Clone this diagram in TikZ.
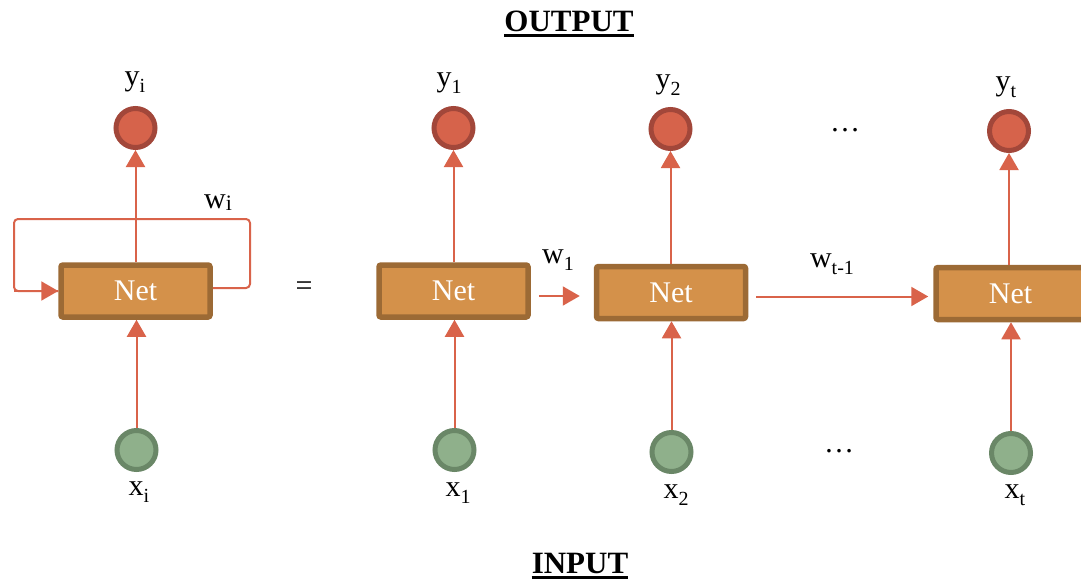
\documentclass[tikz,border=0pt]{standalone}
\usepackage{fontspec}
\setmainfont{Liberation Serif}
\usetikzlibrary{arrows.meta}
\definecolor{arrowred}{HTML}{D9634A}
\definecolor{outfill}{HTML}{D6634B}
\definecolor{outdraw}{HTML}{A2473A}
\definecolor{infill}{HTML}{8FB08B}
\definecolor{indraw}{HTML}{6A8767}
\definecolor{netfill}{HTML}{D4914A}
\definecolor{netdraw}{HTML}{9C6A35}
\newcommand\lowsub[1]{\raisebox{-7pt}{\fontsize{20}{20}\selectfont #1}}
\tikzset{
  netbox/.style={draw=netdraw, fill=netfill, line width=5.5pt, rounded corners=2pt,
    minimum width=149pt, minimum height=52pt, inner sep=0pt,
    text=white, font=\fontsize{30}{34}\selectfont},
  outnode/.style={circle, draw=outdraw, fill=outfill, line width=5pt,
    minimum size=39pt, inner sep=0pt},
  innode/.style={circle, draw=indraw, fill=infill, line width=5pt,
    minimum size=39pt, inner sep=0pt},
  lbl/.style={inner sep=0pt, font=\fontsize{30}{34}\selectfont},
  head/.style={inner sep=0pt, font=\fontsize{31}{36}\selectfont\bfseries, anchor=base},
  conn/.style={draw=arrowred, line width=2pt, -{Triangle[length=17pt,width=19pt]}},
  plain/.style={draw=arrowred, line width=2pt},
}
\begin{document}
\begin{tikzpicture}[x=1pt,y=-1pt]
\useasboundingbox (0,0) rectangle (1081,583);

% headings
\node[head] (outh) at (569,32) {OUTPUT};
\node[head] (inh) at (580,573) {INPUT};
\draw[line width=3pt] ([yshift=-4pt]outh.base west) -- ([yshift=-4pt]outh.base east);
\draw[line width=3pt] ([yshift=-4pt]inh.base west) -- ([yshift=-4pt]inh.base east);

% recurrent cell (folded form)
\node[netbox] (n0) at (135.5,291) {Net};
\node[outnode] (y0) at (135.5,128) {};
\node[innode] (x0) at (136.5,450) {};
\node[lbl] (ly0) at (135,82) {y\lowsub{i}};
\node[lbl] (lx0) at (139,492) {x\lowsub{i}};
\draw[conn] (n0.north) -- (y0.south);
\draw[conn] (x0.north) -- (n0.south -| x0.north);
\coordinate (loopR) at (250,288);
\coordinate (loopTR) at (250,219);
\coordinate (loopTL) at (14,219);
\coordinate (loopL) at (14,291);
\draw[plain, rounded corners=4pt] (n0.east |- loopR) -- (loopR) -- (loopTR) -- (loopTL) -- (loopL) -- (n0.west);
\draw[conn] (loopL) -- (n0.west);
\node[lbl] (lw0) at (218,203) {w\raisebox{-2pt}{\fontsize{22}{22}\selectfont i}};

\node[lbl] (eq) at (304,289) {=};

% unrolled cells
\node[netbox] (n1) at (453.5,291) {Net};
\node[netbox] (n2) at (671,292.5) {Net};
\node[netbox] (n3) at (1010.5,293.5) {Net};

\node[outnode] (y1) at (453.5,128) {};
\node[outnode] (y2) at (670.5,129) {};
\node[outnode] (y3) at (1009,131) {};

\node[innode] (x1) at (454.5,450) {};
\node[innode] (x2) at (671.5,452) {};
\node[innode] (x3) at (1011,453) {};

\node[lbl] (ly1) at (449,83) {y\lowsub{1}};
\node[lbl] (ly2) at (668,85) {y\lowsub{2}};
\node[lbl] (ly3) at (1006,87) {y\lowsub{t}};

\node[lbl] (lx1) at (458,493) {x\lowsub{1}};
\node[lbl] (lx2) at (676,495) {x\lowsub{2}};
\node[lbl] (lx3) at (1015,495) {x\lowsub{t}};

\node[lbl] (dotsT) at (845,130) {\dots};
\node[lbl] (dotsB) at (839,451) {\dots};

\foreach \i in {1,2,3}{
  \draw[conn] (n\i.north -| y\i.south) -- (y\i.south);
  \draw[conn] (x\i.north) -- (n\i.south -| x\i.north);
}

\draw[conn, shorten <=8pt, shorten >=14pt] ([yshift=-5pt]n1.east) -- ([yshift=-5pt]n1.east -| n2.west);
\draw[conn, shorten <=8pt, shorten >=5pt] ([yshift=-4pt]n2.east) -- ([yshift=-4pt]n2.east -| n3.west);
\node[lbl] (lw1) at (558,260) {w\lowsub{1}};
\node[lbl] (lw2) at (832,264) {w\lowsub{t-1}};
\end{tikzpicture}
\end{document}
